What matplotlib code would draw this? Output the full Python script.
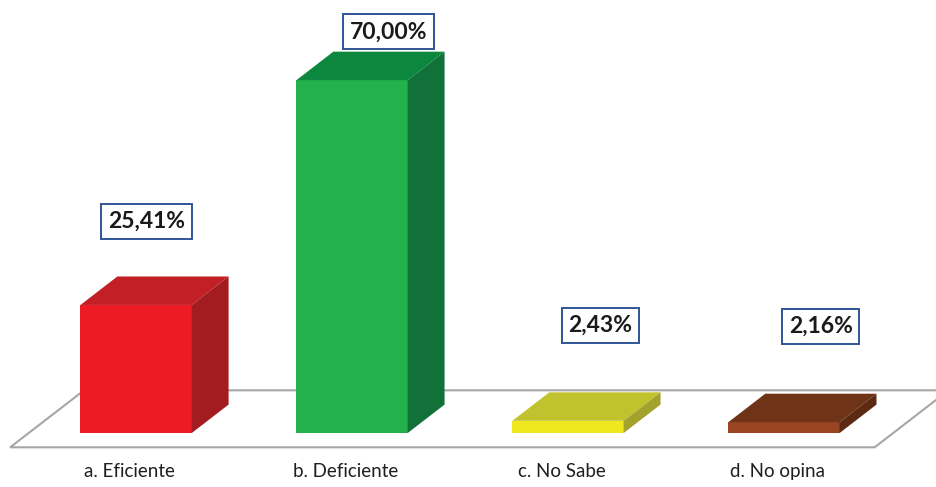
import matplotlib.pyplot as plt
from matplotlib.patches import Polygon

categories = ["a. Eficiente", "b. Deficiente", "c. No Sabe", "d. No opina"]
values = [25.41, 70.00, 2.43, 2.16]
value_labels = ["25,41%", "70,00%", "2,43%", "2,16%"]

# front / top / side shades for each bar
front_colors = ["#ED1C24", "#22B14C", "#EFE81E", "#9A4421"]
top_colors = ["#C21F27", "#0C883E", "#C2C22E", "#6F3417"]
side_colors = ["#A21C20", "#127039", "#A2A22C", "#5C2A12"]

# label box placement (x offset from bar centre, y in %)
label_dx = [0.05, 0.17, 0.15, 0.17]
label_y = [42.0, 79.6, 21.4, 21.2]

BAR_W = 0.515
DX = 0.171   # depth offset in x units
DY = 5.65    # depth offset in y units

fig = plt.figure(figsize=(9.36, 4.87), dpi=100)
ax = fig.add_axes([0, 0, 1, 1])
ax.set_xlim(-0.63, 3.704)
ax.set_ylim(-10.7, 85.9)
ax.axis("off")

# floor plane under the bars
fx0, fx1 = -0.583, 3.42
floor = Polygon(
    [
        (fx0, -0.5 * DY),
        (fx1, -0.5 * DY),
        (fx1 + 2 * DX, 1.5 * DY),
        (fx0 + 2 * DX, 1.5 * DY),
    ],
    closed=True,
    facecolor="white",
    edgecolor="#A6A6A6",
    linewidth=1.5,
    zorder=1,
)
ax.add_patch(floor)

for i, v in enumerate(values):
    x0 = i - BAR_W / 2
    x1 = i + BAR_W / 2
    front = Polygon(
        [(x0, 0), (x1, 0), (x1, v), (x0, v)],
        facecolor=front_colors[i], edgecolor="none", zorder=3,
    )
    top = Polygon(
        [(x0, v), (x1, v), (x1 + DX, v + DY), (x0 + DX, v + DY)],
        facecolor=top_colors[i], edgecolor="none", zorder=3,
    )
    side = Polygon(
        [(x1, 0), (x1 + DX, DY), (x1 + DX, v + DY), (x1, v)],
        facecolor=side_colors[i], edgecolor="none", zorder=3,
    )
    for p in (front, top, side):
        ax.add_patch(p)

    ax.text(
        i + label_dx[i],
        label_y[i],
        value_labels[i],
        ha="center",
        va="center",
        fontsize=16.5,
        fontweight="bold",
        family="Lato",
        color="#1A1A1A",
        zorder=5,
        bbox=dict(
            boxstyle="square,pad=0.3",
            facecolor="white",
            edgecolor="#2F5597",
            linewidth=1.4,
        ),
    )

    ax.text(
        i - 0.03,
        -7.6,
        categories[i],
        ha="center",
        va="center",
        fontsize=13.5,
        family="Lato",
        color="#1F1F1F",
    )

fig.savefig("out.png", dpi=100)
